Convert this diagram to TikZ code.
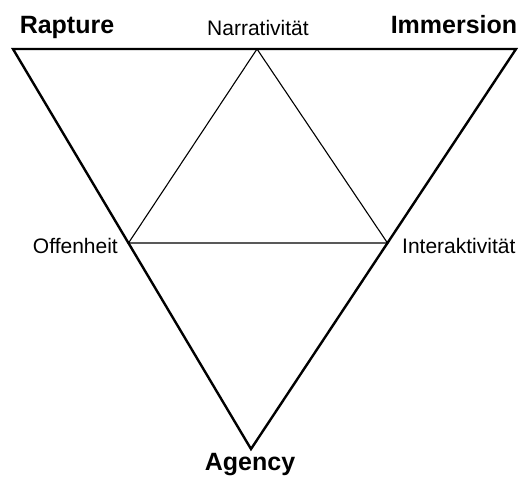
\documentclass[tikz,border=0pt]{standalone}
\usepackage{fontspec}
\setmainfont{Liberation Sans}
\usepackage{tikz}

\begin{document}
\begin{tikzpicture}[
x=1pt, y=-1pt,
pole/.style={font=\fontsize{25}{29}\selectfont\bfseries, inner sep=0pt},
facet/.style={font=\fontsize{21}{25}\selectfont, inner sep=0pt},
outer/.style={line width=2.4pt, line join=miter},
inner/.style={line width=1.1pt, line join=miter}
]
\useasboundingbox (0,0) rectangle (521,477);
% corners of the outer triangle
\coordinate (rap) at (13,49);
\coordinate (imm) at (516,49);
\coordinate (agc) at (251,449);
% corners of the inner triangle
\coordinate (nar) at (257,49);
\coordinate (off) at (128.5,243);
\coordinate (int) at (387.5,243);
\draw[outer] (rap) -- (imm) -- (agc) -- cycle;
\draw[inner] (nar) -- (off) -- (int) -- cycle;
% labels
\node[pole, anchor=base] (raplabel) at (67,33) {Rapture};
\node[pole, anchor=base] (immlabel) at (454,33) {Immersion};
\node[pole, anchor=base] (agclabel) at (250,470) {Agency};
\node[facet, anchor=base] (narlabel) at (258,35) {Narrativität};
\node[facet, anchor=base east] (offlabel) at (118,253) {Offenheit};
\node[facet, anchor=base west] (intlabel) at (402,253) {Interaktivität};
\end{tikzpicture}
\end{document}
